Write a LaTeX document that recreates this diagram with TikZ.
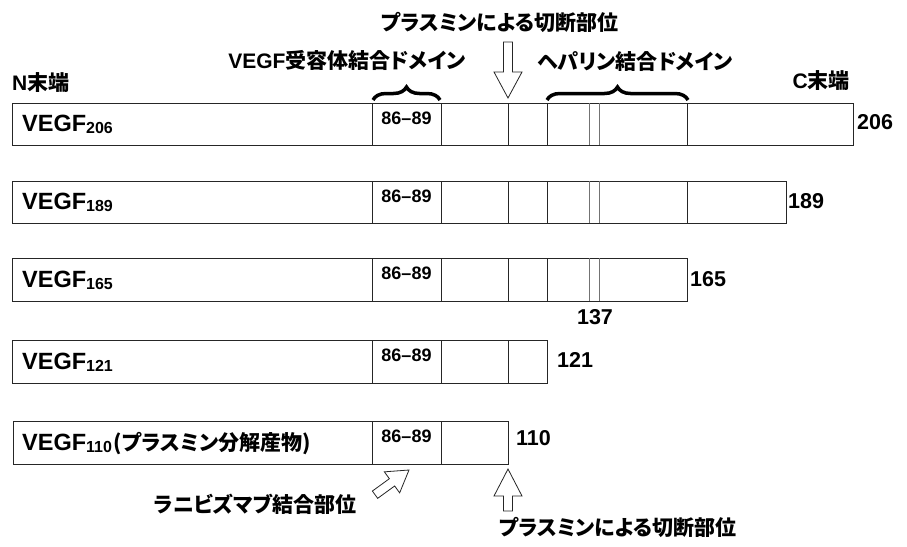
\documentclass[tikz,border=0pt]{standalone}
\usepackage{fontspec}
\setmainfont{Liberation Sans}
\newfontfamily\jp{Noto Sans CJK JP}[RawFeature=+palt]
\usetikzlibrary{decorations.pathreplacing}
\begin{document}
\begin{tikzpicture}[x=1pt,y=-1pt,
  seg/.style={draw=black!85, line width=0.9pt},
  dbl/.style={draw=black!55, line width=0.8pt},
  lbl/.style={inner sep=0pt, font=\bfseries\fontsize{23.5}{23.5}\selectfont},
  jlbl/.style={inner sep=0pt, font=\jp\bfseries\fontsize{21}{21}\selectfont},
  num/.style={inner sep=0pt, font=\bfseries\fontsize{21.5}{21.5}\selectfont},
  aa/.style={inner sep=0pt, font=\bfseries\fontsize{18}{18}\selectfont},
  brc/.style={decorate, decoration={brace, amplitude=13pt}, line width=3.5pt},
  blockarrow/.style={draw=black!85, line width=0.8pt, fill=white, line join=miter}
]
\newcommand\sub[1]{\raisebox{-2.5pt}{\fontsize{16}{16}\selectfont #1}}
\useasboundingbox (0,0) rectangle (907,546);

% ---- row 1: VEGF206
\draw[seg] (12,103) rectangle (853,145);
\foreach \x in {372,441,508,547,687} \draw[seg] (\x,103) -- (\x,145);
\foreach \x in {589,599} \draw[dbl] (\x,103) -- (\x,145);
% ---- row 2: VEGF189
\draw[seg] (12,181) rectangle (786,223);
\foreach \x in {372,441,508,547,687} \draw[seg] (\x,181) -- (\x,223);
\foreach \x in {589,599} \draw[dbl] (\x,181) -- (\x,223);
% ---- row 3: VEGF165
\draw[seg] (12,258) rectangle (687,301);
\foreach \x in {372,441,508,547} \draw[seg] (\x,258) -- (\x,301);
\foreach \x in {589,599} \draw[dbl] (\x,258) -- (\x,301);
% ---- row 4: VEGF121
\draw[seg] (12,340) rectangle (547,383);
\foreach \x in {372,441,508} \draw[seg] (\x,340) -- (\x,383);
% ---- row 5: VEGF110
\draw[seg] (13,421) rectangle (508,464);
\foreach \x in {372,441} \draw[seg] (\x,421) -- (\x,464);

% ---- row labels
\node[lbl, anchor=base west] (v206) at (22,131) {VEGF\sub{206}};
\node[lbl, anchor=base west] (v189) at (22,209) {VEGF\sub{189}};
\node[lbl, anchor=base west] (v165) at (22,287) {VEGF\sub{165}};
\node[lbl, anchor=base west] (v121) at (22,369) {VEGF\sub{121}};
\node[lbl, anchor=base west] (v110) at (22,450) {VEGF\sub{110}\hspace{2pt}{\jp\fontsize{21}{21}\selectfont (プラスミン分解産物)}};

% ---- 86-89 labels
\node[aa] (a1) at (406.5,118) {86--89};
\node[aa] (a2) at (406.5,196) {86--89};
\node[aa] (a3) at (406.5,273) {86--89};
\node[aa] (a4) at (406.5,355) {86--89};
\node[aa] (a5) at (406.5,436) {86--89};

% ---- end numbers
\node[num, anchor=west] (n206) at (857,122) {206};
\node[num, anchor=west] (n189) at (788,201) {189};
\node[num, anchor=west] (n165) at (690,279) {165};
\node[num] (n137) at (595,317) {137};
\node[num, anchor=west] (n121) at (557,360) {121};
\node[num, anchor=west] (n110) at (516,438) {110};

% ---- headings
\node[jlbl] (plasTop) at (500,22) {プラスミンによる切断部位};
\node[jlbl] (vegfr) at (347,60) {{\rmfamily VEGF}受容体結合ドメイン};
\node[jlbl] (hep) at (635,62) {ヘパリン結合ドメイン};
\node[jlbl, anchor=west] (nterm) at (12,83) {{\rmfamily N}末端};
\node[jlbl, anchor=east] (cterm) at (850,81) {{\rmfamily C}末端};
\node[jlbl] (rani) at (255,504) {ラニビズマブ結合部位};
\node[jlbl] (plasBot) at (618,527) {プラスミンによる切断部位};

% ---- braces
\draw[brc] (373,100) -- (440,100);
\draw[brc] (547,100) -- (688,100);

% ---- plasmin arrow (top, pointing down)
\draw[blockarrow] (503.5,42) -- (512.5,42) -- (512.5,72) -- (522,72) -- (508,98)
  -- (494,72) -- (503.5,72) -- cycle;
% ---- plasmin arrow (bottom, pointing up)
\draw[blockarrow] (503.5,511) -- (512.5,511) -- (512.5,496) -- (522,496) -- (508,469)
  -- (494,496) -- (503.5,496) -- cycle;
% ---- ranibizumab arrow (diagonal)
\begin{scope}[shift={(409,470)}, rotate=36]
\draw[blockarrow] (0,0) -- (-21,13) -- (-21,4.5) -- (-42,4.5) -- (-42,-4.5)
  -- (-21,-4.5) -- (-21,-13) -- cycle;
\end{scope}
\end{tikzpicture}
\end{document}
